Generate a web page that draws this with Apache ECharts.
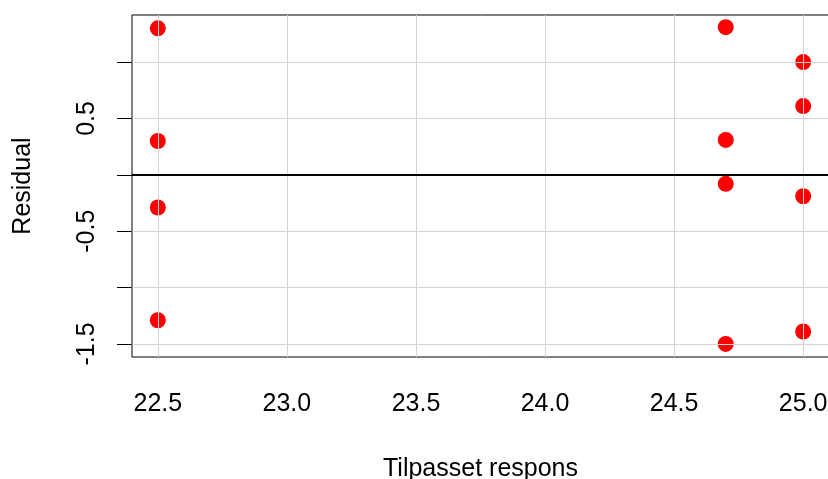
<!DOCTYPE html>
<html>
<head>
<meta charset="utf-8">
<script src="https://cdn.jsdelivr.net/npm/echarts@6/dist/echarts.min.js"></script>
<style>
html,body{margin:0;padding:0;background:#fff;}
#c{width:828px;height:479px;}
</style>
</head>
<body>
<div id="c"></div>
<script>
// Data
const fitted = [22.5, 22.5, 22.5, 22.5, 24.7, 24.7, 24.7, 24.7, 25.0, 25.0, 25.0, 25.0];
const residuals = [1.3, 0.3, -0.29, -1.29, 1.31, 0.31, -0.08, -1.5, 1.0, 0.61, -0.19, -1.39];
const xTicks = [22.5, 23.0, 23.5, 24.0, 24.5, 25.0];
const yTicks = [-1.5, -1.0, -0.5, 0, 0.5, 1.0];
const yLabels = [-1.5, -0.5, 0.5];
const xName = 'Tilpasset respons';
const yName = 'Residual';

const font = 'Liberation Sans, Arial, sans-serif';
const points = fitted.map((x, i) => [x, residuals[i]]);

const chart = echarts.init(document.getElementById('c'), null, {renderer: 'canvas'});
chart.setOption({
  animation: false,
  backgroundColor: '#fff',
  grid: {left: 132, top: 15, width: 697, height: 342, show: true, borderColor: '#000', borderWidth: 1, backgroundColor: 'transparent', containLabel: false, outerBoundsMode: 'none'},
  xAxis: {
    type: 'value', min: 22.4, max: 25.1,
    name: xName, nameLocation: 'middle', nameGap: 100,
    nameTextStyle: {fontFamily: font, fontSize: 25, color: '#000'},
    axisLine: {show: false},
    axisTick: {show: true, length: 15, customValues: xTicks, lineStyle: {color: '#000', width: 1}},
    axisLabel: {customValues: xTicks, margin: 35, fontFamily: font, fontSize: 25, color: '#000', formatter: v => v.toFixed(1)},
    splitLine: {show: false}
  },
  yAxis: {
    type: 'value', min: -1.616, max: 1.418,
    name: yName, nameLocation: 'middle', nameGap: 96,
    nameTextStyle: {fontFamily: font, fontSize: 25, color: '#000'},
    axisLine: {show: false},
    axisTick: {show: true, length: 15, customValues: yTicks, lineStyle: {color: '#000', width: 1}},
    axisLabel: {customValues: yLabels, rotate: 90, margin: 32, fontFamily: font, fontSize: 25, color: '#000', formatter: v => String(v)},
    splitLine: {show: false}
  },
  series: [
    {
      type: 'line', data: [], z: 1, silent: true,
      markLine: {
        silent: true, symbol: 'none', animation: false,
        label: {show: false},
        lineStyle: {color: '#d3d3d3', type: 'solid', width: 1},
        data: xTicks.map(v => ({xAxis: v})).concat(yTicks.map(v => ({yAxis: v})))
      }
    },
    {
      type: 'line', data: [], z: 2, silent: true,
      markLine: {
        silent: true, symbol: 'none', animation: false,
        label: {show: false},
        lineStyle: {color: '#000', type: 'solid', width: 2},
        data: [{yAxis: 0}]
      }
    },
    {
      type: 'scatter', data: points, z: 3,
      symbol: 'circle', symbolSize: 16,
      itemStyle: {color: '#ff0000', opacity: 1}
    }
  ]
});
</script>
</body>
</html>
